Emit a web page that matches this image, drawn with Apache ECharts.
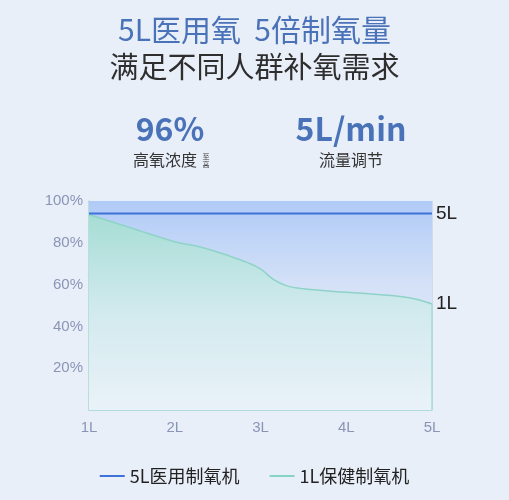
<!DOCTYPE html>
<html>
<head>
<meta charset="utf-8">
<script src="https://cdn.jsdelivr.net/npm/echarts@6/dist/echarts.min.js"></script>
<style>
html,body{margin:0;padding:0;background:#e9eff9;}
#c{width:509px;height:500px;}
</style>
</head>
<body>
<div id="c"></div>
<script>
var xTicks = [1, 2, 3, 4, 5];
var yTicks = [0, 20, 40, 60, 80, 100];
var seriesNames = ['5L医用制氧机', '1L保健制氧机'];
var medicalX = [1, 5];
var medicalY = [94, 94];
var homeX = [1, 1.5, 2, 2.3, 2.65, 2.85, 3, 3.15, 3.3, 3.5, 4, 4.4, 4.75, 5];
var homeY = [93.5, 87, 80.5, 78, 73.5, 70.5, 67.5, 62.5, 59.5, 58, 56.3, 55.2, 53.6, 50.7];
var bandX = [1, 5];
var bandY = [100, 100];

function pairs(xs, ys){ return xs.map(function(x,i){ return [x, ys[i]]; }); }

var FONT = '"Noto Sans CJK SC", "Noto Sans", sans-serif';
var LAT = '"Liberation Sans", Arial, sans-serif';
var chart = echarts.init(document.getElementById('c'));
var lastHome = homeX.length - 1;

chart.setOption({
  backgroundColor: '#e9eff9',
  animation: false,
  textStyle: { fontFamily: FONT },
  grid: { left: 89, right: 77, top: 201, bottom: 90 },
  xAxis: {
    type: 'value', min: xTicks[0], max: xTicks[xTicks.length-1], interval: 1,
    axisLine: { show: true, lineStyle: { color: '#a6dbd3', width: 1.5 } },
    axisTick: { show: false },
    axisLabel: { color: '#8a95b6', fontSize: 15, margin: 10, formatter: '{value}L', fontFamily: LAT },
    splitLine: { show: true, lineStyle: { color: 'rgba(190,202,220,0.55)', width: 1 } }
  },
  yAxis: {
    type: 'value', min: yTicks[0], max: yTicks[yTicks.length-1], interval: 20,
    axisLine: { show: true, lineStyle: { color: '#a6dbd3', width: 1.5 } },
    axisTick: { show: false },
    axisLabel: { color: '#8a95b6', fontSize: 15, margin: 6, padding: [6,0,0,0], fontFamily: LAT,
      formatter: function(v){ return v === 0 ? '' : v + '%'; } },
    splitLine: { show: true, lineStyle: { color: 'rgba(190,202,220,0.55)', width: 1 } }
  },
  legend: {
    data: [
      { name: seriesNames[0], icon: 'rect' },
      { name: seriesNames[1], icon: 'rect' }
    ],
    bottom: 10, left: 'center',
    itemWidth: 25, itemHeight: 2, itemGap: 30,
    textStyle: { color: '#222', fontSize: 18, fontFamily: FONT }
  },
  series: [
    {
      name: 'band', type: 'line', data: pairs(bandX, bandY), symbol: 'none', silent: true,
      lineStyle: { width: 0 }, z: 1,
      areaStyle: { opacity: 1, color: new echarts.graphic.LinearGradient(0,0,0,1,[
        {offset:0,color:'#b0cbf7'},{offset:0.4,color:'#d4e1f7'},{offset:1,color:'#e8eff9'}]) }
    },
    {
      name: seriesNames[1], type: 'line', data: pairs(homeX, homeY), smooth: 0.4, symbol: 'none', z: 3,
      color: '#86d4c8',
      lineStyle: { color: '#8fd3c8', width: 1.5 },
      areaStyle: { opacity: 1, color: new echarts.graphic.LinearGradient(0,0,0,1,[
        {offset:0,color:'#a6ddd5'},{offset:0.5,color:'#d2eaee'},{offset:1,color:'#eaf2f9'}]) },
      endLabel: { show: true, formatter: '1L', color: '#222', fontSize: 19, distance: 4, fontFamily: LAT },
      markLine: { silent: true, symbol: 'none', label: { show: false },
        lineStyle: { color: '#a6dbd3', width: 1.5, type: 'solid' },
        data: [[{ coord: [homeX[lastHome], 0] }, { coord: [homeX[lastHome], homeY[lastHome]] }]] }
    },
    {
      name: seriesNames[0], type: 'line', data: pairs(medicalX, medicalY), symbol: 'none', z: 4,
      color: '#3e72d8',
      lineStyle: { color: '#3e72d8', width: 2 },
      endLabel: { show: true, formatter: '5L', color: '#222', fontSize: 19, distance: 4, fontFamily: LAT }
    }
  ],
  graphic: [
    { type: 'text', left: 'center', top: 15, style: { text: '5L医用氧  5倍制氧量', fill: '#4a72b8', font: '30px ' + FONT } },
    { type: 'text', left: 'center', top: 52, style: { text: '满足不同人群补氧需求', fill: '#2e2e2e', font: '29px ' + FONT } },
    { type: 'text', x: 170, y: 129, style: { text: '96%', fill: '#4a72b8', font: 'bold 32px ' + FONT, textAlign: 'center', textVerticalAlign: 'middle' } },
    { type: 'text', x: 351, y: 129, style: { text: '5L/min', fill: '#4a72b8', font: 'bold 32px ' + FONT, textAlign: 'center', textVerticalAlign: 'middle' } },
    { type: 'text', x: 165, y: 160, style: { text: '高氧浓度', fill: '#333', font: '16px ' + FONT, textAlign: 'center', textVerticalAlign: 'middle' } },
    { type: 'text', x: 206, y: 156, style: { text: '至', fill: '#444', font: '7px ' + FONT, textAlign: 'center', textVerticalAlign: 'middle' } },
    { type: 'text', x: 206, y: 164, style: { text: '高', fill: '#444', font: '7px ' + FONT, textAlign: 'center', textVerticalAlign: 'middle' } },
    { type: 'text', x: 351, y: 160, style: { text: '流量调节', fill: '#333', font: '16px ' + FONT, textAlign: 'center', textVerticalAlign: 'middle' } }
  ]
});
</script>
</body>
</html>
